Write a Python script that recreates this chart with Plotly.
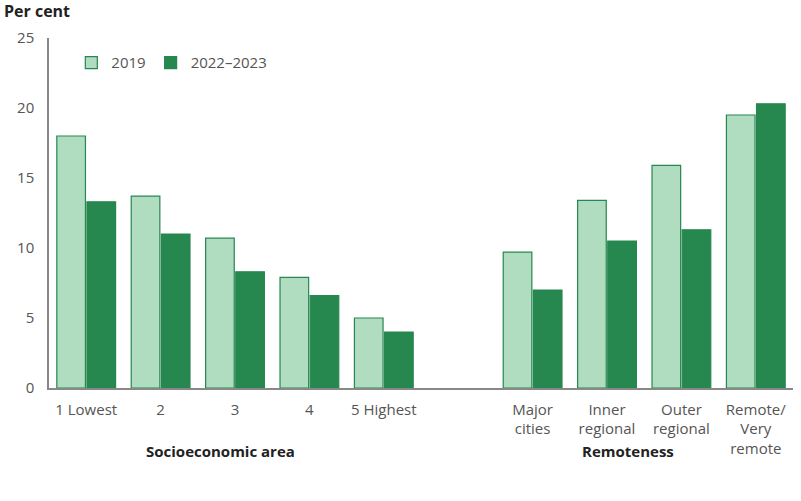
import plotly.graph_objects as go

categories = ["1 Lowest", "2", "3", "4", "5 Highest", "Major<br>cities", "Inner<br>regional", "Outer<br>regional", "Remote/<br>Very<br>remote"]
positions = [0, 1, 2, 3, 4, 6, 7, 8, 9]
v2019 = [18.0, 13.7, 10.7, 7.9, 5.0, 9.7, 13.4, 15.9, 19.5]
v2022 = [13.3, 11.0, 8.3, 6.6, 4.0, 7.0, 10.5, 11.3, 20.3]
groups = ["Socioeconomic area", "Remoteness"]
group_centers = [1.81, 7.28]

LIGHT = "#b0dcc0"
DARK = "#26874f"
FONT = "Open Sans"

fig = go.Figure()
fig.add_trace(go.Bar(x=positions, y=v2019, name="2019",
                     marker=dict(color=LIGHT, line=dict(color=DARK, width=1.2))))
fig.add_trace(go.Bar(x=positions, y=v2022, name="2022–2023",
                     marker=dict(color=DARK, line=dict(color=DARK, width=1.2))))

fig.update_layout(
    width=801, height=501,
    margin=dict(l=49, r=8, t=38, b=113),
    paper_bgcolor="white", plot_bgcolor="white",
    font=dict(family=FONT, size=15, color="#555555"),
    barmode="group", bargap=0.19, bargroupgap=0.05,
    showlegend=True,
    legend=dict(orientation="h", x=0.03, y=0.929, xanchor="left", yanchor="middle",
                font=dict(size=15, color="#555555"), itemwidth=30,
                traceorder="normal", bgcolor="rgba(0,0,0,0)"),
    xaxis=dict(range=[-0.5, 9.5], tickmode="array", tickvals=positions, ticktext=categories,
               showline=True, linecolor="#888888", linewidth=1.5, ticks="", showgrid=False,
               tickfont=dict(size=15, color="#555555"), zeroline=False, ticklabelstandoff=7),
    yaxis=dict(range=[0, 25], tickvals=[0, 5, 10, 15, 20, 25], showgrid=False,
               showline=True, linecolor="#888888", linewidth=1.5, ticks="",
               tickfont=dict(size=15, color="#555555"), zeroline=False, ticklabelstandoff=10),
)

fig.add_annotation(text="<b>Per cent</b>", xref="paper", yref="paper", x=-47/744, y=1.0,
                   xanchor="left", yanchor="bottom", yshift=14, showarrow=False,
                   font=dict(size=16, color="#222222", family=FONT))
for g, c in zip(groups, group_centers):
    fig.add_annotation(text="<b>" + g + "</b>", xref="x", yref="paper", x=c, y=0,
                       yshift=-63, xanchor="center", yanchor="middle", showarrow=False,
                       font=dict(size=15, color="#222222", family=FONT))

fig.write_html("out.html")
